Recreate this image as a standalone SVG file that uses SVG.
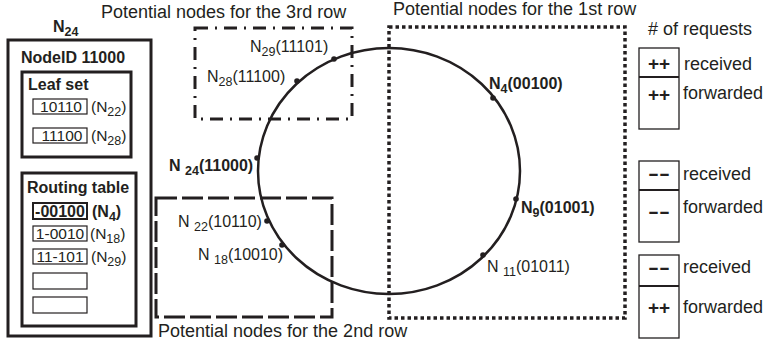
<svg xmlns="http://www.w3.org/2000/svg" width="765" height="342" viewBox="0 0 765 342">
<style>
text{font-family:"Liberation Sans",Arial,sans-serif;fill:#231f20}
.t{font-size:18px}
.b{font-weight:bold}
.lab{font-size:16px}
.sub{font-size:12.5px}
.ent{font-size:15.5px}
.op{font-size:19px;font-weight:bold}
.thick{fill:none;stroke:#231f20;stroke-width:3}
.thin{fill:#fff;stroke:#231f20;stroke-width:1.2}
.cnt{fill:#fff;stroke:#231f20;stroke-width:1.3}
.div{stroke:#231f20;stroke-width:2.2}
.dot{fill:#231f20}
</style>
<rect width="765" height="342" fill="#fff"/>

<g id="region-3rd">
<rect x="195" y="28" width="157" height="91" fill="none" stroke="#231f20" stroke-width="3" stroke-dasharray="13 7 2 7"/>
<text class="t" x="101" y="18">Potential nodes for the 3rd row</text>
</g>
<g id="region-2nd">
<rect x="156" y="198" width="176" height="119" fill="none" stroke="#231f20" stroke-width="3" stroke-dasharray="21 5"/>
<text class="t" x="158" y="337">Potential nodes for the 2nd row</text>
</g>
<g id="region-1st">
<rect x="389" y="27" width="236" height="291" fill="none" stroke="#231f20" stroke-width="3.5" stroke-dasharray="3.5 3"/>
<text class="t" x="393" y="15">Potential nodes for the 1st row</text>
</g>

<g id="connectors">
<ellipse id="ring" cx="389" cy="171" rx="131" ry="123" fill="none" stroke="#231f20" stroke-width="2.5"/>
</g>

<g id="node-n29"><circle class="dot" cx="334" cy="59" r="2.8"/>
<text class="lab" x="250" y="52">N<tspan class="sub" dy="4">29</tspan><tspan dy="-4">(11101)</tspan></text></g>
<g id="node-n28"><circle class="dot" cx="297" cy="81" r="2.8"/>
<text class="lab" x="207" y="82">N<tspan class="sub" dy="4">28</tspan><tspan dy="-4">(11100)</tspan></text></g>
<g id="node-n24"><circle class="dot" cx="257" cy="158" r="2.8"/>
<text class="lab b" x="169" y="171">N <tspan class="sub" dy="4">24</tspan><tspan dy="-4">(11000)</tspan></text></g>
<g id="node-n22"><circle class="dot" cx="267" cy="221" r="2.8"/>
<text class="lab" x="178" y="227">N <tspan class="sub" dy="4">22</tspan><tspan dy="-4">(10110)</tspan></text></g>
<g id="node-n18"><circle class="dot" cx="282" cy="245" r="2.8"/>
<text class="lab" x="198" y="260">N <tspan class="sub" dy="4">18</tspan><tspan dy="-4">(10010)</tspan></text></g>
<g id="node-n4"><circle class="dot" cx="493" cy="98" r="2.8"/>
<text class="lab b" x="489" y="89">N<tspan class="sub" dy="4">4</tspan><tspan dy="-4">(00100)</tspan></text></g>
<g id="node-n9"><circle class="dot" cx="516" cy="199" r="2.8"/>
<text class="lab b" x="521" y="213">N<tspan class="sub" dy="4">9</tspan><tspan dy="-4">(01001)</tspan></text></g>
<g id="node-n11"><circle class="dot" cx="483" cy="255" r="2.8"/>
<text class="lab" x="487" y="272">N <tspan class="sub" dy="4">11</tspan><tspan dy="-4">(01011)</tspan></text></g>

<g id="n24-state">
<text class="lab b" x="53" y="32">N<tspan class="sub" dy="4">24</tspan></text>
<rect class="thick" x="8" y="40" width="143" height="296"/>
<text class="lab b" x="21" y="63">NodeID 11000</text>
<g id="leaf-set">
<rect class="thick" x="22" y="72" width="109" height="85"/>
<text class="lab b" x="28" y="90">Leaf set</text>
<rect class="thin" x="33" y="99" width="54" height="15"/>
<text class="ent" x="61" y="112" text-anchor="middle">10110</text>
<text class="ent" x="91" y="112">(N<tspan class="sub" dy="4">22</tspan><tspan dy="-4">)</tspan></text>
<rect class="thin" x="33" y="128" width="54" height="15"/>
<text class="ent" x="62" y="141" text-anchor="middle">11100</text>
<text class="ent" x="91" y="141">(N<tspan class="sub" dy="4">28</tspan><tspan dy="-4">)</tspan></text>
</g>
<g id="routing-table">
<rect class="thick" x="22" y="173" width="114" height="153"/>
<text class="lab b" x="27" y="193">Routing table</text>
<rect x="33" y="203" width="54" height="16" fill="#fff" stroke="#231f20" stroke-width="2"/>
<text class="lab b" x="60" y="217" text-anchor="middle">-00100</text>
<text class="lab b" x="92" y="217">(N<tspan class="sub" dy="4">4</tspan><tspan dy="-4">)</tspan></text>
<rect class="thin" x="33" y="226" width="54" height="15"/>
<text class="ent" x="60" y="239" text-anchor="middle">1-0010</text>
<text class="ent" x="90" y="239">(N<tspan class="sub" dy="4">18</tspan><tspan dy="-4">)</tspan></text>
<rect class="thin" x="33" y="249" width="54" height="15"/>
<text class="ent" x="60" y="262" text-anchor="middle">11-101</text>
<text class="ent" x="91" y="262">(N<tspan class="sub" dy="4">29</tspan><tspan dy="-4">)</tspan></text>
<rect class="thin" x="33" y="273" width="54" height="16"/>
<rect class="thin" x="33" y="297" width="54" height="16"/>
</g>
</g>

<g id="counters">
<text class="t" x="648" y="35">#&#160;of requests</text>
<g id="counter-1">
<rect class="cnt" x="639" y="48" width="40" height="81"/>
<line class="div" x1="639" y1="77" x2="679" y2="77"/>
<text class="op" x="659" y="69.5" text-anchor="middle">++</text>
<text class="op" x="659" y="100.5" text-anchor="middle">++</text>
<text class="t" x="684" y="70">received</text>
<text class="t" x="683" y="99">forwarded</text>
</g>
<g id="counter-2">
<rect class="cnt" x="639" y="161" width="40" height="81"/>
<line class="div" x1="639" y1="190" x2="679" y2="190"/>
<text class="op" x="648" y="179.5" textLength="22" lengthAdjust="spacingAndGlyphs">--</text>
<text class="op" x="648" y="217.5" textLength="22" lengthAdjust="spacingAndGlyphs">--</text>
<text class="t" x="683" y="180">received</text>
<text class="t" x="683" y="213">forwarded</text>
</g>
<g id="counter-3">
<rect class="cnt" x="639" y="255" width="40" height="83"/>
<line class="div" x1="639" y1="286" x2="679" y2="286"/>
<text class="op" x="648" y="273.5" textLength="22" lengthAdjust="spacingAndGlyphs">--</text>
<text class="op" x="659" y="313.5" text-anchor="middle">++</text>
<text class="t" x="683" y="273">received</text>
<text class="t" x="683" y="313">forwarded</text>
</g>
</g>
</svg>
